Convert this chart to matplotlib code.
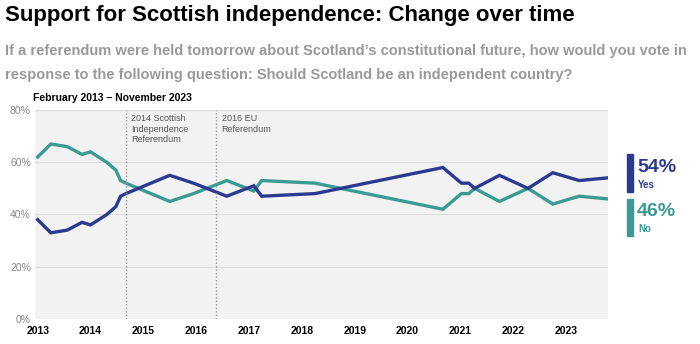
import matplotlib.pyplot as plt

# Daten (Jahr als Dezimalzahl)
dates = [2013.0, 2013.25, 2013.56, 2013.84, 2014.0, 2014.31, 2014.48, 2014.57, 2014.67,
         2015.5, 2015.95, 2016.58, 2017.09, 2017.24, 2018.25, 2020.67, 2021.02, 2021.16,
         2021.27, 2021.74, 2022.28, 2022.75, 2023.25, 2023.77]
yes = [38, 33, 34, 37, 36, 40, 43, 47, 48, 55, 52, 47, 51, 47, 48, 58, 52, 52, 50, 55, 50, 56, 53, 54]
no = [62, 67, 66, 63, 64, 60, 57, 53, 52, 45, 48, 53, 49, 53, 52, 42, 48, 48, 50, 45, 50, 44, 47, 46]
years = list(range(2013, 2024))
events = [(2014.67, "2014 Scottish\nIndependence\nReferendum"), (2016.38, "2016 EU\nReferendum")]

yes_col = '#2b3990'
no_col = '#3a9b95'

plt.rcParams['font.family'] = ['Liberation Sans', 'DejaVu Sans']

fig = plt.figure(figsize=(7, 3.44), dpi=100)
ax = fig.add_axes([0.05, 0.073, 0.819, 0.607])
ax.set_facecolor('#f2f2f2')

ax.plot(dates, no, color=no_col, lw=2.4, solid_joinstyle='miter')
ax.plot(dates, yes, color=yes_col, lw=2.4, solid_joinstyle='miter')

for x, label in events:
    ax.axvline(x, color='#999999', lw=1, ls=(0, (1, 1.5)))
    ax.text(x + 0.1, 78.5, label, fontsize=6.5, color='#555555', va='top', linespacing=1.25)

ax.set_ylim(0, 80)
ax.set_xlim(2012.95, 2023.8)
ax.set_yticks([0, 20, 40, 60, 80])
ax.set_yticklabels([f"{v}%" for v in [0, 20, 40, 60, 80]], color='#888888', fontsize=7.5)
ax.set_xticks(years)
ax.set_xticklabels([str(y) for y in years], fontsize=7.5, fontweight='bold')
ax.grid(axis='y', color='#dddddd', lw=0.8)
ax.set_axisbelow(True)
ax.tick_params(length=0, pad=5)
ax.tick_params(axis='y', pad=3)
for s in ax.spines.values():
    s.set_visible(False)

# Titel
fig.text(0.007, 0.955, "Support for Scottish independence: Change over time",
         fontsize=16, fontweight='bold', va='center')
fig.text(0.007, 0.853, "If a referendum were held tomorrow about Scotland\u2019s constitutional future, how would you vote in",
         fontsize=10.5, fontweight='bold', color='#999999', va='center')
fig.text(0.007, 0.783, "response to the following question: Should Scotland be an independent country?",
         fontsize=10.5, fontweight='bold', color='#999999', va='center')
fig.text(0.047, 0.714, "February 2013 \u2013 November 2023", fontsize=7.5, fontweight='bold', va='center')

# Endwerte rechts
fig.patches.append(plt.Rectangle((627 / 700, 1 - 192 / 344), 6 / 700, 38 / 344,
                                 transform=fig.transFigure, color=yes_col))
fig.patches.append(plt.Rectangle((627 / 700, 1 - 236 / 344), 6 / 700, 37 / 344,
                                 transform=fig.transFigure, color=no_col))
fig.text(637 / 700, 1 - 167 / 344, f"{yes[-1]}%", fontsize=14, fontweight='bold', color=yes_col, va='center')
fig.text(638 / 700, 1 - 185 / 344, "Yes", fontsize=7, fontweight='bold', color=yes_col, va='center')
fig.text(637 / 700, 1 - 211 / 344, f"{no[-1]}%", fontsize=14, fontweight='bold', color=no_col, va='center')
fig.text(638 / 700, 1 - 229 / 344, "No", fontsize=7, fontweight='bold', color=no_col, va='center')

plt.savefig("out.png", dpi=100)
